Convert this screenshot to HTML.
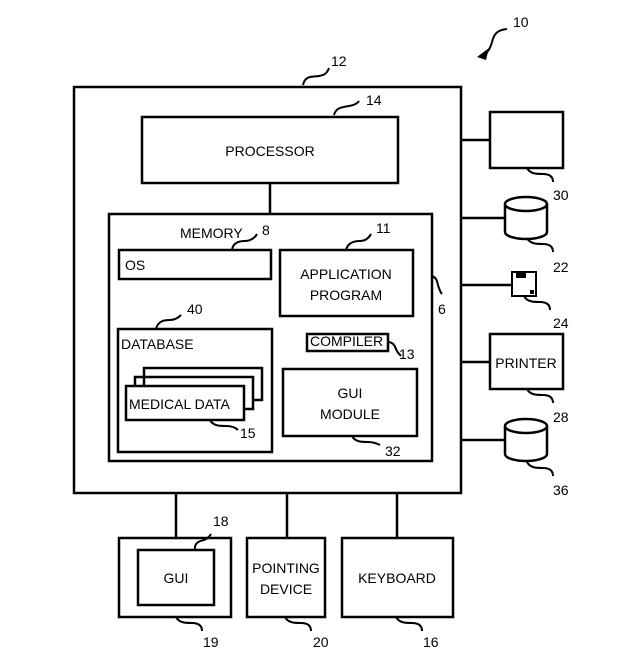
<!DOCTYPE html>
<html><head><meta charset="utf-8"><style>
body{margin:0;background:#fff}
svg{display:block}
text{font-family:"Liberation Sans",sans-serif;font-size:14px;fill:#000}
</style></head><body>
<svg width="633" height="669" viewBox="0 0 633 669" xmlns="http://www.w3.org/2000/svg">
<g fill="none" stroke="#000" stroke-width="2.5">
<rect x="74" y="87" width="387" height="406"/>
<rect x="142" y="117" width="256" height="66"/>
<line x1="270" y1="183" x2="270" y2="214"/>
<rect x="109" y="214" width="323" height="247"/>
<rect x="119" y="250" width="152" height="29"/>
<rect x="280" y="250" width="133" height="66"/>
<rect x="118" y="329" width="154" height="123"/>
<rect x="307" y="334" width="81" height="17"/>
<rect x="283" y="369" width="134" height="67"/>
<polyline points="144,386 144,368 262,368 262,400 253,400"/>
<polyline points="135,386 135,377 253,377 253,409 244,409"/>
<rect x="126" y="386" width="118" height="34" fill="#fff"/>
<line x1="461" y1="140" x2="490" y2="140"/>
<line x1="461" y1="218" x2="505" y2="218"/>
<line x1="461" y1="285" x2="511" y2="285"/>
<line x1="461" y1="362" x2="490" y2="362"/>
<line x1="461" y1="440" x2="505" y2="440"/>
<rect x="490" y="112" width="73" height="56"/>
<rect x="490" y="334" width="73" height="55"/>
<path d="M505,204 v28 a21,7 0 0 0 42,0 v-28"/>
<ellipse cx="526" cy="204" rx="21" ry="7"/>
<path d="M505,426 v28 a21,7 0 0 0 42,0 v-28"/>
<ellipse cx="526" cy="426" rx="21" ry="7"/>
<rect x="512" y="272" width="24" height="24" stroke-width="2"/>
<line x1="176" y1="493" x2="176" y2="538"/>
<line x1="287" y1="493" x2="287" y2="538"/>
<line x1="397" y1="493" x2="397" y2="538"/>
<rect x="119" y="538" width="112" height="79"/>
<rect x="138" y="550" width="76" height="55"/>
<rect x="247" y="538" width="78" height="79"/>
<rect x="342" y="538" width="111" height="79"/>
</g>
<rect x="516" y="273" width="10" height="5" fill="#000"/>
<rect x="530" y="290" width="4" height="4" fill="#000"/>
<g fill="none" stroke="#000" stroke-width="2">
<path d="M303,85 c2,-10 10,-8 16,-9 c6,-1 8,-3 10,-8"/>
<path d="M334,115 c2,-8 10,-8 15,-9 c5,-1 8,-2 10,-5"/>
<path d="M480,57 c8,-4 10,-8 12,-15 c2,-8 5,-12 15,-13"/>
<path d="M232,250 c1,-8 8,-9 13,-9 c5,0 10,-3 12,-7"/>
<path d="M346,250 c2,-8 9,-9 14,-9 c5,0 9,-3 11,-7"/>
<path d="M432,276 c6,2 5,8 7,12 c1,3 2,5 3,6"/>
<path d="M156,329 c2,-8 8,-9 14,-9 c5,0 9,-3 11,-5"/>
<path d="M388,342 c5,0 7,4 8,7 c1,3 3,5 5,7"/>
<path d="M210,420 c3,6 10,6 16,6 c6,0 10,2 12,4"/>
<path d="M352,436 c3,6 10,6 16,6 c6,0 10,2 12,3"/>
<path d="M527,168 c3,6 10,6 16,6 c6,0 10,2 10,8"/>
<path d="M527,238 c3,6 10,6 16,6 c6,0 10,2 10,8"/>
<path d="M524,296 c3,6 10,6 16,6 c6,0 10,2 10,8"/>
<path d="M527,389 c3,6 10,6 16,6 c6,0 10,2 10,8"/>
<path d="M527,462 c3,6 10,6 16,6 c6,0 10,2 10,8"/>
<path d="M195,550 c-1,-8 5,-9 9,-10 c3,-1 5,-3 7,-6"/>
<path d="M176,617 c3,6 10,6 16,6 c6,0 10,2 10,8"/>
<path d="M285,617 c3,6 10,6 16,6 c6,0 10,2 10,8"/>
<path d="M396,617 c3,6 10,6 16,6 c6,0 10,2 10,8"/>
</g>
<path d="M477,57 l12,-9 l-3,12 z" fill="#000"/>
<g>
<text x="270" y="156" text-anchor="middle">PROCESSOR</text>
<text x="180" y="238">MEMORY</text>
<text x="125" y="270">OS</text>
<text x="346" y="279" text-anchor="middle">APPLICATION</text>
<text x="346" y="300" text-anchor="middle">PROGRAM</text>
<text x="121" y="349">DATABASE</text>
<text x="310" y="346">COMPILER</text>
<text x="350" y="398" text-anchor="middle">GUI</text>
<text x="350" y="419" text-anchor="middle">MODULE</text>
<text x="129" y="409">MEDICAL DATA</text>
<text x="526" y="368" text-anchor="middle">PRINTER</text>
<text x="176" y="583" text-anchor="middle">GUI</text>
<text x="286" y="573" text-anchor="middle">POINTING</text>
<text x="286" y="594" text-anchor="middle">DEVICE</text>
<text x="397" y="583" text-anchor="middle">KEYBOARD</text>
<text x="513" y="27">10</text>
<text x="331" y="66">12</text>
<text x="366" y="105">14</text>
<text x="262" y="235">8</text>
<text x="376" y="233">11</text>
<text x="438" y="314">6</text>
<text x="187" y="314">40</text>
<text x="399" y="359">13</text>
<text x="240" y="438">15</text>
<text x="385" y="456">32</text>
<text x="553" y="200">30</text>
<text x="553" y="272">22</text>
<text x="553" y="328">24</text>
<text x="553" y="422">28</text>
<text x="553" y="495">36</text>
<text x="213" y="526">18</text>
<text x="203" y="647">19</text>
<text x="313" y="647">20</text>
<text x="423" y="647">16</text>
</g>
</svg>
</body></html>
